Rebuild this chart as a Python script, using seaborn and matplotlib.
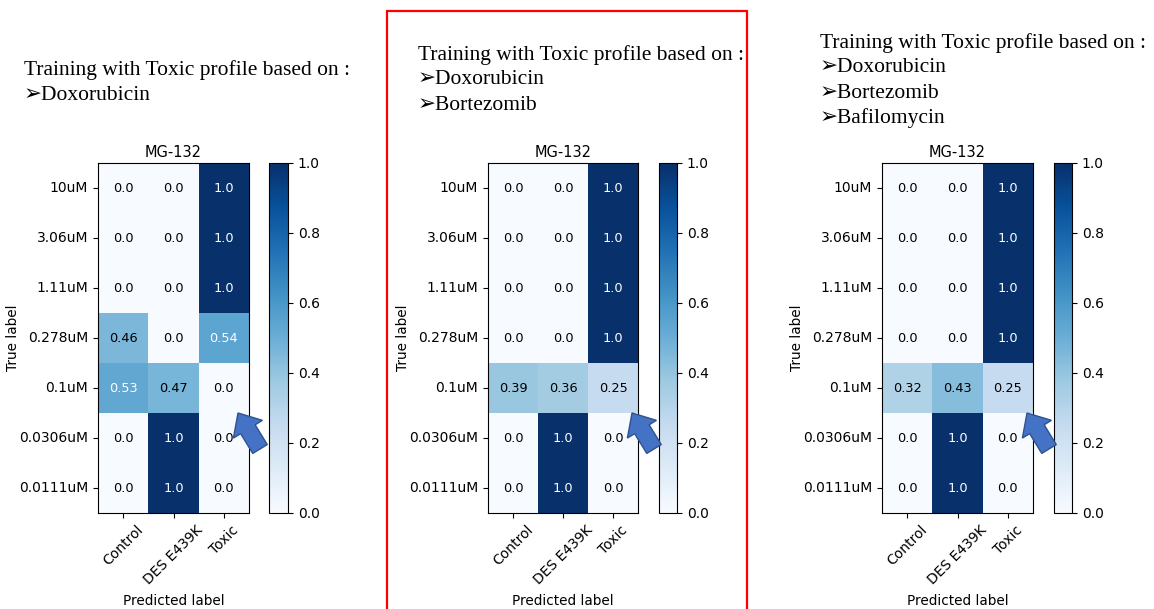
import numpy as np
import pandas as pd
import matplotlib
matplotlib.use("Agg")
import matplotlib.pyplot as plt
import matplotlib.patches as mpatches
import seaborn as sns

# ---------------- data ----------------
true_labels = ["10uM", "3.06uM", "1.11uM", "0.278uM", "0.1uM", "0.0306uM", "0.0111uM"]
pred_labels = ["Control", "DES E439K", "Toxic"]
panel_title = "MG-132"

cm_doxo = [[0.0, 0.0, 1.0],
           [0.0, 0.0, 1.0],
           [0.0, 0.0, 1.0],
           [0.46, 0.0, 0.54],
           [0.53, 0.47, 0.0],
           [0.0, 1.0, 0.0],
           [0.0, 1.0, 0.0]]
cm_doxo_bort = [[0.0, 0.0, 1.0],
                [0.0, 0.0, 1.0],
                [0.0, 0.0, 1.0],
                [0.0, 0.0, 1.0],
                [0.39, 0.36, 0.25],
                [0.0, 1.0, 0.0],
                [0.0, 1.0, 0.0]]
cm_doxo_bort_bafi = [[0.0, 0.0, 1.0],
                     [0.0, 0.0, 1.0],
                     [0.0, 0.0, 1.0],
                     [0.0, 0.0, 1.0],
                     [0.32, 0.43, 0.25],
                     [0.0, 1.0, 0.0],
                     [0.0, 1.0, 0.0]]

header = "Training with Toxic profile based on :"
drugs_1 = ["Doxorubicin"]
drugs_2 = ["Doxorubicin", "Bortezomib"]
drugs_3 = ["Doxorubicin", "Bortezomib", "Bafilomycin"]

# ---------------- layout ----------------
W, H = 1154, 609
fig = plt.figure(figsize=(W / 100, H / 100), dpi=100)
fig.patch.set_facecolor("white")

def fx(px):
    return px / W

def fy(py):
    return 1 - py / H

panels = [
    dict(hl=98, hr=249, cl=269, cr=288, tx=24, ty=70, cm=cm_doxo, drugs=drugs_1, tip=(238, 413)),
    dict(hl=488, hr=638, cl=659, cr=677, tx=418, ty=55, cm=cm_doxo_bort, drugs=drugs_2, tip=(632, 413)),
    dict(hl=882, hr=1033, cl=1054, cr=1072, tx=820, ty=43, cm=cm_doxo_bort_bafi, drugs=drugs_3, tip=(1027, 413)),
]
top_px, bot_px = 163, 513

for p in panels:
    ax = fig.add_axes([fx(p["hl"]), fy(bot_px), fx(p["hr"] - p["hl"]), (bot_px - top_px) / H])
    cax = fig.add_axes([fx(p["cl"]), fy(bot_px), fx(p["cr"] - p["cl"]), (bot_px - top_px) / H])
    df = pd.DataFrame(p["cm"], index=true_labels, columns=pred_labels)
    annot = np.array([[str(round(v, 2)) for v in row] for row in p["cm"]])
    sns.heatmap(df, ax=ax, cbar_ax=cax, cmap="Blues", vmin=0, vmax=1,
                annot=annot, fmt="", annot_kws={"fontsize": 9.3}, linewidths=0)
    vals = np.array(p["cm"]).ravel()
    for t, v in zip(ax.texts, vals):
        t.set_color("white" if v > 0.5 else "black")
    for sp in ax.spines.values():
        sp.set_visible(True)
        sp.set_linewidth(0.8)
        sp.set_color("black")
    ax.set_yticklabels(true_labels, rotation=0, fontsize=10)
    ax.set_xticklabels(pred_labels, rotation=45, ha="center", fontsize=10)
    ax.tick_params(axis="both", length=3.5, width=0.8, color="black")
    ax.set_xlabel("Predicted label", fontsize=9.8, labelpad=5)
    ax.set_ylabel("True label", fontsize=9.8, labelpad=-1)
    ax.set_title(panel_title, fontsize=10.5, pad=4)
    cbar = ax.collections[0].colorbar
    cbar.outline.set_visible(True)
    cbar.outline.set_linewidth(0.8)
    cbar.outline.set_edgecolor("black")
    cbar.set_ticks([0.0, 0.2, 0.4, 0.6, 0.8, 1.0])
    cbar.ax.tick_params(labelsize=10, length=3.5, width=0.8)

    # header text
    fam = ["Liberation Serif", "DejaVu Sans"]
    fig.text(fx(p["tx"]), fy(p["ty"]), header, fontsize=15.5, family=fam, va="center", ha="left")
    for i, d in enumerate(p["drugs"]):
        fig.text(fx(p["tx"]), fy(p["ty"] + 25 * (i + 1)), "\u27a2" + d, fontsize=15.5,
                 family=fam, va="center", ha="left")

    # blue block arrow pointing to the highlighted cell
    tipx, tipy = p["tip"]
    tailx, taily = tipx + 22, tipy + 36
    arr = mpatches.FancyArrow(tailx / 100, (H - taily) / 100, (tipx - tailx) / 100, (taily - tipy) / 100,
                              width=0.17, head_width=0.34, head_length=0.19,
                              length_includes_head=True, transform=fig.dpi_scale_trans,
                              facecolor="#4472C4", edgecolor="#2F528F", linewidth=1.0, zorder=10)
    fig.patches.append(arr)

# red highlight frame around the middle panel
rect = mpatches.Rectangle((387 / 100, -0.1), (747 - 387) / 100, (H - 11) / 100 + 0.1,
                          transform=fig.dpi_scale_trans, fill=False, edgecolor="red",
                          linewidth=1.6, zorder=20)
fig.patches.append(rect)

fig.savefig("out.png", dpi=100)
